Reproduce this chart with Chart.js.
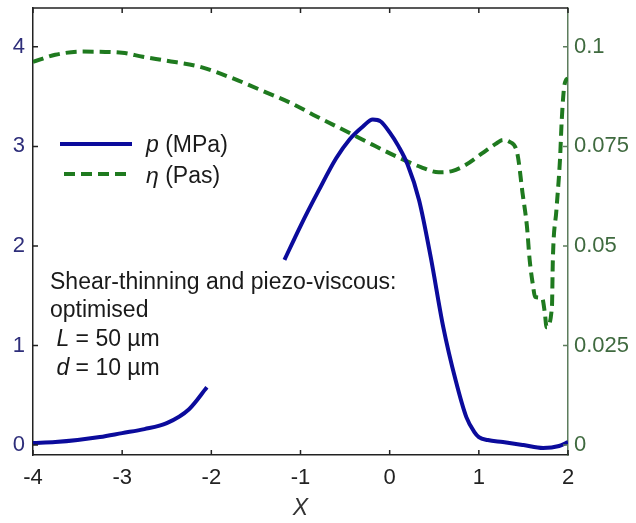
<!DOCTYPE html>
<html>
<head>
<meta charset="utf-8">
<script src="https://cdn.jsdelivr.net/npm/chart.js@4/dist/chart.umd.min.js"></script>
<style>
  body { margin: 0; background: #fff; }
  #wrap { width: 636px; height: 523px; }
</style>
</head>
<body>
<div id="wrap"><canvas id="c" width="636" height="523"></canvas></div>
<script>
// pressure p (MPa) along X, null = gap in the original curve
const xP = [-4, -3.75, -3.5, -3.25, -3, -2.75, -2.5, -2.25, -2.05, -1.6, -1.18, -1.0, -0.8, -0.6, -0.45, -0.3, -0.19, -0.1, 0, 0.1, 0.2, 0.33, 0.46, 0.6, 0.74, 0.86, 0.95, 1.0, 1.1, 1.27, 1.5, 1.72, 1.9, 2.0];
const pVals = [0.02, 0.03, 0.05, 0.08, 0.12, 0.16, 0.22, 0.36, 0.58, null, 1.86, 2.2, 2.55, 2.88, 3.07, 3.2, 3.27, 3.25, 3.14, 3.0, 2.82, 2.46, 1.89, 1.19, 0.65, 0.28, 0.13, 0.08, 0.05, 0.03, 0.0, -0.03, -0.01, 0.03];

// viscosity eta (Pas) along X
const xEta = [-4, -3.75, -3.44, -3.0, -2.77, -2.5, -2.13, -1.75, -1.38, -1.1, -0.82, -0.46, -0.2, 0.1, 0.35, 0.55, 0.7, 0.85, 1.04, 1.2, 1.27, 1.34, 1.43, 1.49, 1.54, 1.57, 1.61, 1.63, 1.71, 1.74, 1.76, 1.82, 1.83, 1.87, 1.91, 1.93, 1.96, 2.0];
const etaVals = [0.0962, 0.098, 0.0988, 0.0985, 0.0975, 0.0965, 0.095, 0.092, 0.0885, 0.0858, 0.0825, 0.0785, 0.0755, 0.0722, 0.0698, 0.0685, 0.0688, 0.0703, 0.0733, 0.0758, 0.0766, 0.0762, 0.0734, 0.0633, 0.0548, 0.0465, 0.0397, 0.0372, 0.0369, 0.0332, 0.0296, 0.0347, 0.0465, 0.059, 0.0716, 0.0817, 0.0904, 0.0922];

const xTicks = [-4, -3, -2, -1, 0, 1, 2];
const pTicks = [0, 1, 2, 3, 4];
const etaTicks = [0, 0.025, 0.05, 0.075, 0.1];

const BLUE = '#0b0b9c';
const GREEN = '#1f7a1f';
const FONT = 'Liberation Sans, Arial, sans-serif';

// inward ticks, top border, legend and text box
const decor = {
  id: 'decor',
  afterDraw(chart) {
    const { ctx, chartArea: a, scales } = chart;
    ctx.save();
    ctx.lineWidth = 1.5;
    ctx.strokeStyle = '#222';
    ctx.beginPath();
    ctx.moveTo(a.left, a.top); ctx.lineTo(a.right, a.top);
    xTicks.forEach(v => {
      const px = scales.x.getPixelForValue(v);
      ctx.moveTo(px, a.bottom); ctx.lineTo(px, a.bottom - 5);
      ctx.moveTo(px, a.top); ctx.lineTo(px, a.top + 5);
    });
    pTicks.forEach(v => {
      const py = scales.y.getPixelForValue(v);
      ctx.moveTo(a.left, py); ctx.lineTo(a.left + 5, py);
    });
    ctx.stroke();
    ctx.strokeStyle = '#5d7d5d';
    ctx.beginPath();
    etaTicks.forEach(v => {
      const py = scales.y1.getPixelForValue(v);
      ctx.moveTo(a.right, py); ctx.lineTo(a.right - 5, py);
    });
    ctx.stroke();

    // legend
    ctx.lineWidth = 4;
    ctx.strokeStyle = BLUE;
    ctx.beginPath(); ctx.moveTo(60, 144); ctx.lineTo(132, 144); ctx.stroke();
    ctx.strokeStyle = GREEN;
    ctx.setLineDash([11, 6]);
    ctx.beginPath(); ctx.moveTo(64, 174); ctx.lineTo(132, 174); ctx.stroke();
    ctx.setLineDash([]);

    const runs = (x, y, parts) => {
      parts.forEach(([t, it]) => {
        ctx.font = (it ? 'italic ' : '') + '23px ' + FONT;
        ctx.fillText(t, x, y);
        x += ctx.measureText(t).width;
      });
    };
    ctx.fillStyle = '#1a1a1a';
    ctx.textBaseline = 'middle';
    ctx.textAlign = 'left';
    runs(146, 146, [['p', true], [' (MPa)', false]]);
    runs(146, 177, [['η', true], [' (Pas)', false]]);

    runs(50, 283, [['Shear-thinning and piezo-viscous:', false]]);
    runs(50, 311, [['optimised', false]]);
    runs(50, 340, [[' ', false], ['L', true], [' = 50 µm', false]]);
    runs(50, 369, [[' ', false], ['d', true], [' = 10 µm', false]]);
    ctx.restore();
  }
};

const noPad = s => { s.paddingTop = 0; s.paddingBottom = 0; };

new Chart(document.getElementById('c'), {
  type: 'line',
  data: {
    datasets: [
      {
        label: 'p (MPa)',
        data: xP.map((x, i) => ({ x, y: pVals[i] })),
        yAxisID: 'y',
        borderColor: BLUE,
        borderWidth: 4,
        pointRadius: 0,
        cubicInterpolationMode: 'monotone',
        spanGaps: false
      },
      {
        label: 'η (Pas)',
        data: xEta.map((x, i) => ({ x, y: etaVals[i] })),
        yAxisID: 'y1',
        borderColor: GREEN,
        borderWidth: 4,
        borderDash: [11, 6],
        pointRadius: 0,
        cubicInterpolationMode: 'monotone'
      }
    ]
  },
  options: {
    responsive: false,
    animation: false,
    layout: { padding: { top: 8, left: 0, right: 0, bottom: 0 } },
    plugins: { legend: { display: false }, tooltip: { enabled: false } },
    scales: {
      x: {
        type: 'linear',
        min: -4, max: 2,
        afterBuildTicks: s => { s.ticks = xTicks.map(v => ({ value: v })); },
        afterFit: s => { s.height = 68; },
        grid: { display: false, drawTicks: false },
        border: { color: '#222', width: 1.5 },
        ticks: { color: '#222', padding: 10, font: { size: 22, family: FONT } },
        title: { display: true, text: 'X', color: '#333', padding: { top: 0, bottom: 1 }, font: { size: 23, style: 'italic', family: FONT } }
      },
      y: {
        position: 'left',
        min: -0.1, max: 4.39,
        afterBuildTicks: s => { s.ticks = pTicks.map(v => ({ value: v })); },
        afterFit: s => { s.width = 33; noPad(s); },
        grid: { display: false, drawTicks: false },
        border: { color: '#222', width: 1.5 },
        ticks: { color: '#2e2e7a', padding: 8, font: { size: 22, family: FONT } }
      },
      y1: {
        position: 'right',
        min: -0.0025, max: 0.10975,
        afterBuildTicks: s => { s.ticks = etaTicks.map(v => ({ value: v })); },
        afterFit: s => { s.width = 68; noPad(s); },
        grid: { display: false, drawTicks: false },
        border: { color: '#5d7d5d', width: 1.5 },
        ticks: { color: '#3f6a3f', padding: 6, font: { size: 22, family: FONT }, callback: v => String(v) }
      }
    }
  },
  plugins: [decor]
});
</script>
</body>
</html>
